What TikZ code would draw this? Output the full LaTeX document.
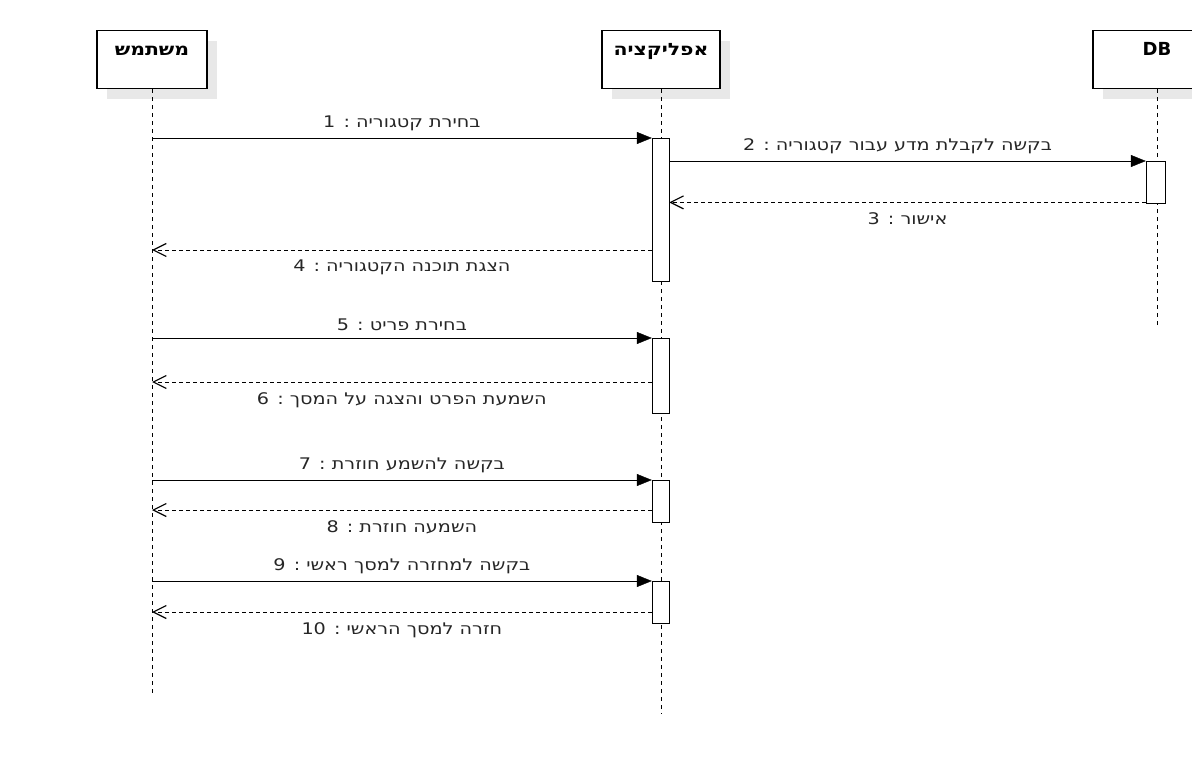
\documentclass[tikz,border=0pt]{standalone}
\usepackage{fontspec}
\setmainfont{DejaVu Sans}
\newfontfamily\hebfont[Script=Hebrew, FakeStretch=1.2]{DejaVu Sans}
\TeXXeTstate=1
\usetikzlibrary{shadows,arrows.meta}
\newcommand{\heb}[1]{{\hebfont\beginR #1\endR}}
\tikzset{
  x=1pt, y=-1pt,
  line width=1.3pt,
  head/.style={draw, fill=white, line width=1.3pt, inner xsep=0pt, inner ysep=0pt,
    text height=25pt, text depth=33pt, font=\bfseries\fontsize{17}{20}\selectfont,
    drop shadow={shadow xshift=10pt, shadow yshift=-10pt, fill=black!9, opacity=1}},
  lifeline/.style={dash pattern=on 4pt off 4pt, line width=1pt},
  act/.style={draw, fill=white, minimum width=17pt, inner sep=0pt, anchor=north},
  call/.style={-{Triangle[length=15pt,width=12pt]}},
  reply/.style={dash pattern=on 4pt off 3pt, -{Straight Barb[length=13pt,width=13pt,line width=1.2pt]}},
  lbl/.style={font=\fontsize{16}{19}\selectfont, inner sep=0pt, text=black!85},
}
\begin{document}
\begin{tikzpicture}
\useasboundingbox (0,0) rectangle (1192,759);
\clip (0,0) rectangle (1192,759);

% participants
\node[head, minimum width=110pt] (user) at (152,30) [anchor=north] {\heb{משתמש}};
\node[head, minimum width=118pt] (app) at (661,30) [anchor=north] {\heb{אפליקציה}};
\node[head, minimum width=128pt] (db) at (1157,30) [anchor=north] {\fontsize{18}{20}\selectfont DB};

% lifeline ends
\coordinate (userEnd) at (152,697);
\coordinate (appEnd) at (661,714);
\coordinate (dbEnd) at (1157,328);

\draw[lifeline] (user.south) -- (userEnd);
\draw[lifeline] (app.south) -- (appEnd);
\draw[lifeline] (db.south) -- (dbEnd);

% activation bars
\node[act, minimum height=143pt] (a1) at (660.5,138) {};
\node[act, minimum height=75pt] (a2) at (660.5,338) {};
\node[act, minimum height=42pt] (a3) at (660.5,480) {};
\node[act, minimum height=42pt] (a4) at (660.5,581) {};
\node[act, minimum width=19pt, minimum height=42pt] (d1) at (1155.5,161) {};

% messages
\draw[call] (user |- a1.north) -- node[lbl, above=7pt] {\heb{בחירת קטגוריה : 1}} (a1.north west);
\draw[call] (a1.east |- d1.north) -- node[lbl, above=7pt, xshift=-10pt] {\heb{בקשה לקבלת מדע עבור קטגוריה : 2}} (d1.north west);
\draw[reply] (d1.south west) ++(0,-1) coordinate (r3) (r3) -- node[lbl, below=10pt] {\heb{אישור : 3}} (a1.east |- r3);
\draw[reply] (a1.west |- 0,250) -- node[lbl, below=10pt] {\heb{הצגת תוכנה הקטגוריה : 4}} (user |- 0,250);

\draw[call] (user |- a2.north) -- node[lbl, above=7pt] {\heb{בחירת פריט : 5}} (a2.north west);
\draw[reply] (a2.west |- 0,382) -- node[lbl, below=10pt] {\heb{השמעת הפרט והצגה על המסך : 6}} (user |- 0,382);

\draw[call] (user |- a3.north) -- node[lbl, above=7pt] {\heb{בקשה להשמע חוזרת : 7}} (a3.north west);
\draw[reply] (a3.west |- 0,510) -- node[lbl, below=10pt] {\heb{השמעה חוזרת : 8}} (user |- 0,510);

\draw[call] (user |- a4.north) -- node[lbl, above=7pt] {\heb{בקשה למחזרה למסך ראשי : 9}} (a4.north west);
\draw[reply] (a4.west |- 0,612) -- node[lbl, below=10pt] {\heb{חזרה למסך הראשי : \beginL 10\endL}} (user |- 0,612);
\end{tikzpicture}
\end{document}
